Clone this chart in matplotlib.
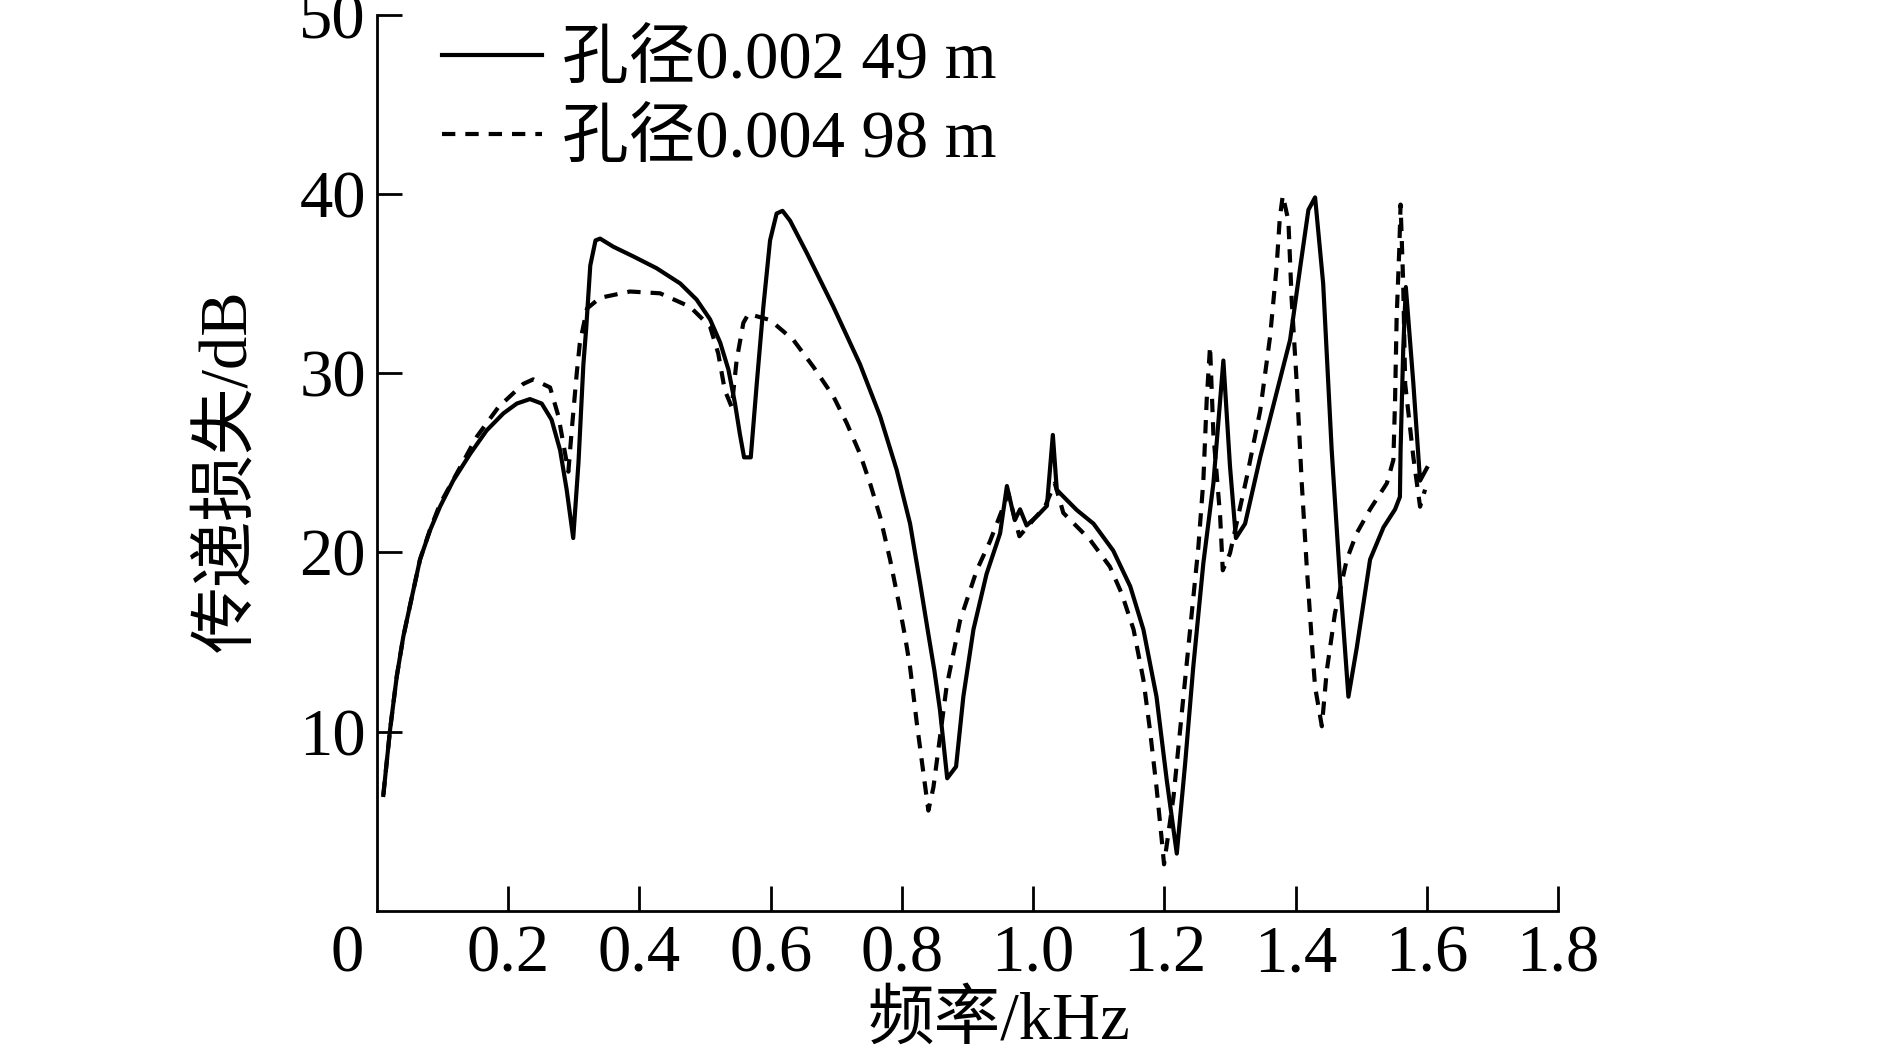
import matplotlib.pyplot as plt
from matplotlib.lines import Line2D

plt.rcParams['font.family'] = ['Liberation Serif', 'Noto Sans CJK SC']

# hole diameter 0.00249 m (solid)
freq_a = [0.0096, 0.0198, 0.030, 0.040, 0.053, 0.0655, 0.081, 0.096, 0.116, 0.142,
          0.167, 0.1925, 0.213, 0.233, 0.251, 0.266, 0.279, 0.289, 0.299, 0.307,
          0.3145, 0.3186, 0.325, 0.333, 0.340, 0.360, 0.391, 0.426, 0.462, 0.487,
          0.5075, 0.523, 0.5355, 0.5456, 0.553, 0.5594, 0.5696, 0.5787, 0.5888, 0.599,
          0.609, 0.618, 0.6295, 0.655, 0.6955, 0.736, 0.7667, 0.792, 0.8124, 0.8276,
          0.840, 0.8495, 0.858, 0.869, 0.8825, 0.8936, 0.909, 0.929, 0.9496, 0.960,
          0.972, 0.980, 0.990, 1.008, 1.021, 1.030, 1.036, 1.041, 1.0665, 1.092,
          1.122, 1.148, 1.168, 1.188, 1.2036, 1.2189, 1.2316, 1.244, 1.2594, 1.2747,
          1.2899, 1.300, 1.309, 1.323, 1.346, 1.371, 1.3916, 1.407, 1.4195, 1.4297,
          1.442, 1.455, 1.468, 1.4805, 1.4933, 1.5135, 1.534, 1.5516, 1.559, 1.560,
          1.564, 1.568, 1.5795, 1.5897, 1.60]
tl_a = [6.47, 10.1, 13.07, 15.3, 17.5, 19.6, 21.25, 22.55, 24.0, 25.5,
        26.8, 27.75, 28.3, 28.55, 28.3, 27.4, 25.7, 23.5, 20.8, 25.0,
        30.5, 32.4, 36.0, 37.4, 37.5, 37.05, 36.5, 35.85, 35.0, 34.1,
        33.0, 31.7, 30.2, 28.3, 26.6, 25.3, 25.3, 29.4, 33.7, 37.4,
        38.9, 39.05, 38.5, 36.7, 33.7, 30.5, 27.6, 24.6, 21.6, 18.3,
        15.5, 13.4, 11.2, 7.4, 8.05, 11.95, 15.7, 18.8, 21.06, 23.7,
        21.8, 22.4, 21.5, 22.1, 22.6, 26.55, 23.5, 23.3, 22.36, 21.6,
        20.1, 18.1, 15.7, 11.95, 7.3, 3.2, 8.2, 13.6, 19.4, 23.85,
        30.7, 24.8, 20.8, 21.6, 25.3, 28.9, 31.85, 35.9, 39.1, 39.8,
        35.0, 25.7, 18.3, 11.95, 14.7, 19.6, 21.4, 22.4, 23.1, 25.7,
        31.3, 34.8, 29.4, 24.0, 24.7]

# hole diameter 0.00498 m (dashed)
freq_b = [0.0096, 0.0198, 0.030, 0.040, 0.053, 0.0655, 0.081, 0.096, 0.111, 0.152,
          0.185, 0.223, 0.238, 0.2637, 0.2764, 0.2916, 0.2967, 0.3044, 0.309, 0.320,
          0.340, 0.3856, 0.4313, 0.477, 0.5075, 0.520, 0.530, 0.5406, 0.548, 0.5583,
          0.566, 0.599, 0.6345, 0.665, 0.6955, 0.716, 0.736, 0.7514, 0.7667, 0.7819,
          0.7946, 0.8048, 0.8124, 0.8226, 0.8327, 0.8403, 0.848, 0.868, 0.8886, 0.914,
          0.934, 0.952, 0.962, 0.979, 1.000, 1.018, 1.033, 1.046, 1.0867, 1.117,
          1.135, 1.153, 1.168, 1.178, 1.188, 1.196, 1.1995, 1.214, 1.229, 1.2417,
          1.2518, 1.2594, 1.2645, 1.2696, 1.2747, 1.285, 1.289, 1.300, 1.3256, 1.346,
          1.361, 1.371, 1.376, 1.3805, 1.389, 1.394, 1.4018, 1.4094, 1.417, 1.427,
          1.4297, 1.440, 1.4475, 1.460, 1.478, 1.493, 1.5135, 1.539, 1.549, 1.5516,
          1.554, 1.558, 1.560, 1.564, 1.567, 1.5795, 1.5897, 1.5973]
tl_b = [6.47, 10.1, 13.07, 15.3, 17.5, 19.6, 21.3, 22.7, 23.7, 26.45,
        28.1, 29.4, 29.65, 29.2, 27.6, 24.5, 26.8, 30.0, 31.65, 33.6,
        34.2, 34.55, 34.45, 33.7, 32.6, 31.1, 29.05, 28.1, 30.7, 32.8,
        33.3, 32.96, 31.85, 30.35, 28.7, 27.2, 25.5, 23.85, 22.0, 19.6,
        17.3, 15.3, 13.6, 10.5, 7.7, 5.6, 6.9, 12.5, 16.2, 19.0,
        20.6, 22.3, 23.3, 20.9, 21.8, 22.55, 23.85, 22.2, 20.7, 19.2,
        17.7, 15.7, 12.9, 10.1, 6.9, 3.96, 2.6, 6.4, 11.95, 16.6,
        20.3, 24.0, 28.5, 31.5, 26.6, 22.0, 19.0, 19.95, 24.2, 27.9,
        32.0, 35.9, 38.7, 39.9, 38.5, 34.1, 29.4, 23.85, 19.2, 13.8,
        12.5, 10.3, 13.4, 16.6, 19.6, 21.06, 22.4, 23.85, 25.15, 28.5,
        33.1, 36.9, 39.4, 35.0, 29.4, 25.3, 22.55, 23.5]

labels = ['孔径0.002 49 m', '孔径0.004 98 m']
xticks = [0.2, 0.4, 0.6, 0.8, 1.0, 1.2, 1.4, 1.6, 1.8]
xticklabels = ['0.2', '0.4', '0.6', '0.8', '1.0', '1.2', '1.4', '1.6', '1.8']
yticks = [10, 20, 30, 40, 50]

fs = 48
lw = 3.0
dash = (0, (3.2, 2.4))

fig = plt.figure(figsize=(18.89, 10.59), dpi=100)
ax = fig.add_axes([0.1996, 0.1398, 0.6252, 0.8465])

ax.plot(freq_a, tl_a, color='black', lw=lw)
ax.plot(freq_b, tl_b, color='black', lw=lw, ls=dash)

ax.set_xlim(0, 1.8)
ax.set_ylim(0, 50)
ax.spines['top'].set_visible(False)
ax.spines['right'].set_visible(False)
ax.spines['left'].set_linewidth(2.0)
ax.spines['bottom'].set_linewidth(2.0)
ax.set_xticks(xticks)
ax.set_xticklabels(xticklabels)
ax.set_yticks(yticks)
ax.tick_params(direction='in', length=18, width=2.0, labelsize=fs, pad=10)
ax.tick_params(axis='y', pad=8)

# shared origin label
ax.text(-0.0254, -0.0155, '0', transform=ax.transAxes, fontsize=fs,
        ha='center', va='top')

fig.text(0.121, 0.556, '传递损失/dB', rotation=90, fontsize=fs,
         ha='center', va='center')
fig.text(0.529, 0.035, '频率/kHz', fontsize=fs, ha='center', va='center')

handles = [Line2D([], [], color='black', lw=lw),
           Line2D([], [], color='black', lw=lw, ls=dash)]
ax.legend(handles, labels, loc='upper left', bbox_to_anchor=(0.021, 1.026),
          frameon=False, fontsize=fs, handlelength=1.5, handletextpad=0.3,
          labelspacing=0.27, borderpad=0.1)

fig.savefig('out.png', dpi=100)
